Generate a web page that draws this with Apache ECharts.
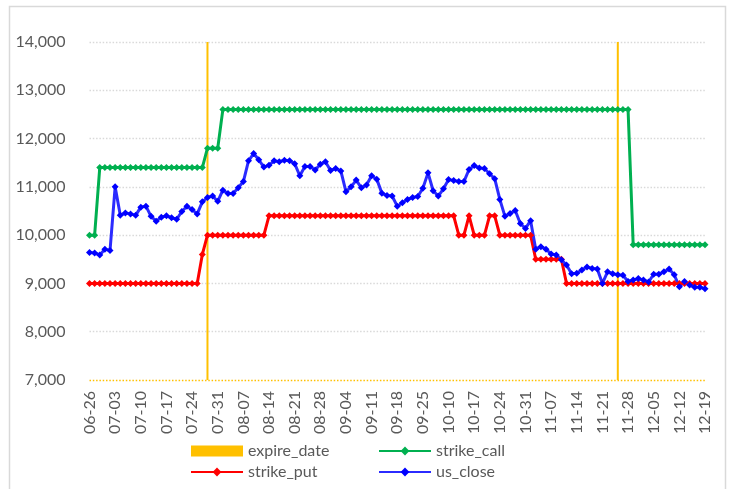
<!DOCTYPE html>
<html>
<head>
<meta charset="utf-8">
<script src="https://cdn.jsdelivr.net/npm/echarts@6/dist/echarts.min.js"></script>
<style>
  html, body { margin: 0; padding: 0; background: #ffffff; }
  #chart { width: 733px; height: 489px; }
</style>
</head>
<body>
<div id="chart"></div>
<script>
// Trading days (MM-DD)
const dates = [
  '06-26','06-27','06-28','07-01','07-02','07-03','07-04','07-05','07-08','07-09',
  '07-10','07-11','07-12','07-15','07-16','07-17','07-18','07-19','07-22','07-23',
  '07-24','07-25','07-26','07-29','07-30','07-31','08-01','08-02','08-05','08-06',
  '08-07','08-08','08-09','08-12','08-13','08-14','08-15','08-16','08-19','08-20',
  '08-21','08-22','08-23','08-26','08-27','08-28','08-29','08-30','09-02','09-03',
  '09-04','09-05','09-06','09-09','09-10','09-11','09-12','09-13','09-16','09-17',
  '09-18','09-19','09-20','09-23','09-24','09-25','09-26','09-27','10-08','10-09',
  '10-10','10-11','10-14','10-15','10-16','10-17','10-18','10-21','10-22','10-23',
  '10-24','10-25','10-28','10-29','10-30','10-31','11-01','11-04','11-05','11-06',
  '11-07','11-08','11-11','11-12','11-13','11-14','11-15','11-18','11-19','11-20',
  '11-21','11-22','11-25','11-26','11-27','11-28','11-29','12-02','12-03','12-04',
  '12-05','12-06','12-09','12-10','12-11','12-12','12-13','12-16','12-17','12-18',
  '12-19'
];

// Option expiry days
const expireDates = ['07-29', '11-26'];

const strikeCall = [
  10000,10000,11400,11400,11400,11400,11400,11400,11400,11400,
  11400,11400,11400,11400,11400,11400,11400,11400,11400,11400,
  11400,11400,11400,11800,11800,11800,12600,12600,12600,12600,
  12600,12600,12600,12600,12600,12600,12600,12600,12600,12600,
  12600,12600,12600,12600,12600,12600,12600,12600,12600,12600,
  12600,12600,12600,12600,12600,12600,12600,12600,12600,12600,
  12600,12600,12600,12600,12600,12600,12600,12600,12600,12600,
  12600,12600,12600,12600,12600,12600,12600,12600,12600,12600,
  12600,12600,12600,12600,12600,12600,12600,12600,12600,12600,
  12600,12600,12600,12600,12600,12600,12600,12600,12600,12600,
  12600,12600,12600,12600,12600,12600,9800,9800,9800,9800,
  9800,9800,9800,9800,9800,9800,9800,9800,9800,9800,
  9800
];

const strikePut = [
  9000,9000,9000,9000,9000,9000,9000,9000,9000,9000,
  9000,9000,9000,9000,9000,9000,9000,9000,9000,9000,
  9000,9000,9600,10000,10000,10000,10000,10000,10000,10000,
  10000,10000,10000,10000,10000,10400,10400,10400,10400,10400,
  10400,10400,10400,10400,10400,10400,10400,10400,10400,10400,
  10400,10400,10400,10400,10400,10400,10400,10400,10400,10400,
  10400,10400,10400,10400,10400,10400,10400,10400,10400,10400,
  10400,10400,10000,10000,10400,10000,10000,10000,10400,10400,
  10000,10000,10000,10000,10000,10000,10000,9500,9500,9500,
  9500,9500,9500,9000,9000,9000,9000,9000,9000,9000,
  9000,9000,9000,9000,9000,9000,9000,9000,9000,9000,
  9000,9000,9000,9000,9000,9000,9000,9000,9000,9000,
  9000
];

const usClose = [
  9640,9630,9590,9710,9680,11000,10410,10460,10440,10410,
  10580,10600,10390,10290,10370,10400,10360,10330,10490,10600,
  10530,10440,10690,10780,10810,10700,10930,10860,10860,10980,
  11110,11540,11690,11560,11410,11450,11540,11520,11550,11540,
  11480,11230,11420,11420,11350,11470,11520,11340,11380,11330,
  10900,11000,11140,10980,11040,11230,11160,10870,10820,10810,
  10600,10670,10740,10780,10800,10970,11290,10920,10810,10960,
  11150,11130,11110,11110,11360,11440,11390,11380,11270,11170,
  10740,10390,10450,10510,10240,10140,10300,9710,9760,9710,
  9610,9590,9490,9380,9200,9210,9280,9340,9310,9300,
  9000,9240,9200,9180,9170,9040,9070,9100,9070,9030,
  9190,9190,9240,9300,9180,8930,9040,8970,8920,8920,
  8890
];

const yTicks = { min: 7000, max: 14000, step: 1000 };

// Expiry markers are full-height thin columns
const expireSeries = dates.map(d => expireDates.includes(d) ? yTicks.max : null);

const FONT = 'Lato';
const TEXT = '#595959';
const GRID = '#d9d9d9';

const gridColors = [];
for (let v = yTicks.min; v <= yTicks.max; v += yTicks.step) {
  gridColors.push(v === yTicks.min ? '#ffc000' : GRID);
}

function lineSeries(name, data, color, lineColor) {
  return {
    name: name,
    type: 'line',
    data: data,
    symbol: 'diamond',
    symbolSize: 7,
    showAllSymbol: true,
    itemStyle: { color: color },
    lineStyle: { color: lineColor || color, width: 3 },
    emphasis: { disabled: true }
  };
}

const legendBase = {
  orient: 'vertical',
  top: 443,
  padding: 0,
  itemWidth: 52, itemHeight: 11, itemGap: 5,
  textStyle: { fontFamily: FONT, fontSize: 16, color: TEXT }
};

const chart = echarts.init(document.getElementById('chart'), null, { renderer: 'canvas' });
chart.setOption({
  animation: false,
  backgroundColor: '#ffffff',
  graphic: [{
    type: 'rect',
    shape: { x: 9.5, y: 6.5, width: 716, height: 500 },
    style: { fill: 'none', stroke: GRID, lineWidth: 1.5 },
    silent: true,
    z: -10
  }],
  grid: { left: 89.5, right: 28, top: 42, bottom: 109, containLabel: false },
  xAxis: {
    type: 'category',
    data: dates,
    boundaryGap: false,
    axisLine: { show: false },
    axisTick: { show: false },
    axisLabel: {
      interval: 4,
      rotate: 90,
      margin: 11,
      fontFamily: FONT,
      fontSize: 16,
      color: TEXT
    },
    splitLine: { show: false }
  },
  yAxis: {
    type: 'value',
    min: yTicks.min,
    max: yTicks.max,
    interval: yTicks.step,
    axisLine: { show: false },
    axisTick: { show: false },
    axisLabel: {
      margin: 24,
      fontFamily: FONT,
      fontSize: 16,
      color: TEXT,
      formatter: v => v.toLocaleString('en-US')
    },
    splitLine: {
      show: true,
      lineStyle: { color: gridColors, type: [1.5, 1.8], width: 1.3 }
    }
  },
  legend: [
    Object.assign({}, legendBase, {
      data: [{ name: 'expire_date', icon: 'rect' }, 'strike_put'],
      left: 190
    }),
    Object.assign({}, legendBase, {
      data: ['strike_call', 'us_close'],
      left: 378
    })
  ],
  series: [
    {
      name: 'expire_date',
      type: 'bar',
      data: expireSeries,
      barWidth: 2,
      itemStyle: { color: '#ffc000' },
      emphasis: { disabled: true }
    },
    lineSeries('strike_call', strikeCall, '#00b050'),
    lineSeries('strike_put', strikePut, '#ff0000'),
    lineSeries('us_close', usClose, '#0000ff', '#2b2bff')
  ]
});
</script>
</body>
</html>
